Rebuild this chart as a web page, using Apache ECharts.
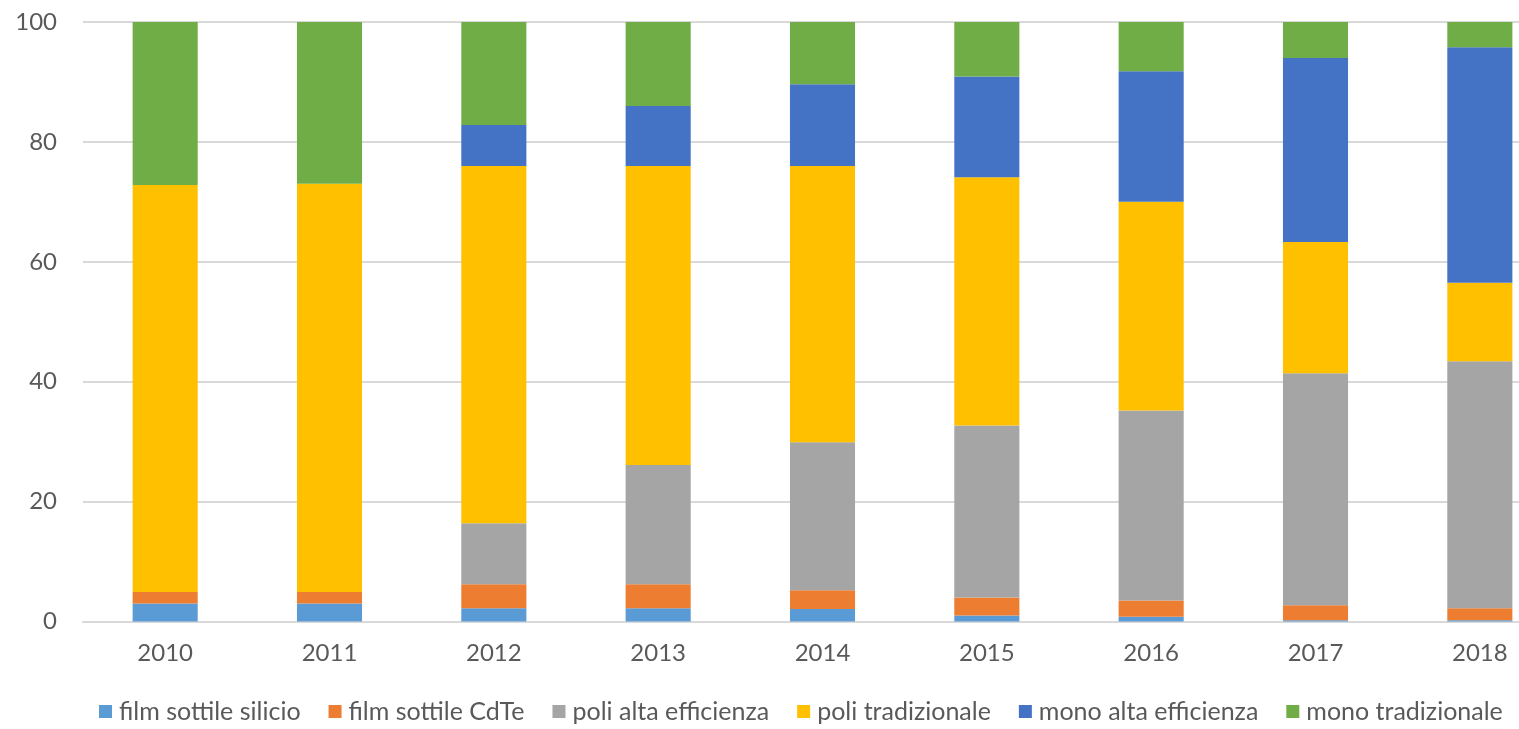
<!DOCTYPE html>
<html>
<head>
<meta charset="utf-8">
<title>Tecnologie moduli fotovoltaici</title>
<script src="https://cdn.jsdelivr.net/npm/echarts@6/dist/echarts.min.js"></script>
<style>
  html, body { margin: 0; padding: 0; background: #ffffff; overflow: hidden; }
  #chart { width: 1519px; height: 729px; }
</style>
</head>
<body>
<div id="chart"></div>
<script>
// Anni sull'asse orizzontale
const years = ['2010', '2011', '2012', '2013', '2014', '2015', '2016', '2017', '2018'];

// Quote percentuali per tecnologia (dal basso verso l'alto)
const filmSilicio      = [3.0, 3.0, 2.2, 2.2, 2.1, 1.0, 0.8, 0.2, 0.2];
const filmCdTe         = [1.9, 1.9, 4.0, 4.0, 3.1, 3.0, 2.7, 2.5, 2.0];
const poliAltaEff      = [0.0, 0.0, 10.2, 19.9, 24.7, 28.7, 31.7, 38.7, 41.2];
const poliTradizionale = [67.9, 68.1, 59.6, 49.9, 46.1, 41.4, 34.8, 21.9, 13.1];
const monoAltaEff      = [0.0, 0.0, 6.8, 10.0, 13.6, 16.8, 21.8, 30.7, 39.3];
const monoTradizionale = [27.2, 27.0, 17.2, 14.0, 10.4, 9.1, 8.2, 6.0, 4.2];

// Etichette dell'asse verticale
const yTicks = { min: 0, max: 100, step: 20 };

const seriesDefs = [
  { name: 'film sottile silicio',  data: filmSilicio,      color: '#5B9BD5' },
  { name: 'film sottile CdTe',     data: filmCdTe,         color: '#ED7D31' },
  { name: 'poli alta efficienza',  data: poliAltaEff,      color: '#A5A5A5' },
  { name: 'poli tradizionale',     data: poliTradizionale, color: '#FFC000' },
  { name: 'mono alta efficienza',  data: monoAltaEff,      color: '#4472C4' },
  { name: 'mono tradizionale',     data: monoTradizionale, color: '#70AD47' }
];

const textColor = '#595959';
const fontFamily = 'Lato, "Open Sans", sans-serif';

const chart = echarts.init(document.getElementById('chart'), null, { renderer: 'canvas' });

chart.setOption({
  backgroundColor: '#ffffff',
  animation: false,
  textStyle: { fontFamily: fontFamily, color: textColor },
  // the plot area runs past the right edge of the canvas
  grid: {
    left: 83, top: 22, width: 1479, bottom: 107.5,
    containLabel: false,
    outerBoundsMode: 'none'
  },
  legend: {
    bottom: 0,
    left: 94,
    icon: 'rect',
    itemWidth: 13,
    itemHeight: 13,
    itemGap: 28,
    textStyle: { fontFamily: fontFamily, fontSize: 25, color: textColor, padding: [0, 0, 0, 2] },
    data: seriesDefs.map(s => s.name)
  },
  xAxis: {
    type: 'category',
    data: years,
    boundaryGap: true,
    axisLine: { show: true, lineStyle: { color: '#d9d9d9', width: 2 } },
    axisTick: { show: false },
    axisLabel: { fontFamily: fontFamily, fontSize: 24, color: textColor, margin: 20 }
  },
  yAxis: {
    type: 'value',
    min: yTicks.min,
    max: yTicks.max,
    interval: yTicks.step,
    axisLine: { show: false },
    axisTick: { show: false },
    splitLine: { show: true, lineStyle: { color: '#d9d9d9', width: 2 } },
    axisLabel: { fontFamily: fontFamily, fontSize: 24, color: textColor, margin: 26 }
  },
  series: seriesDefs.map(s => ({
    name: s.name,
    type: 'bar',
    stack: 'totale',
    barWidth: '39.6%',
    data: s.data,
    itemStyle: { color: s.color },
    emphasis: { disabled: true }
  }))
});
</script>
</body>
</html>
